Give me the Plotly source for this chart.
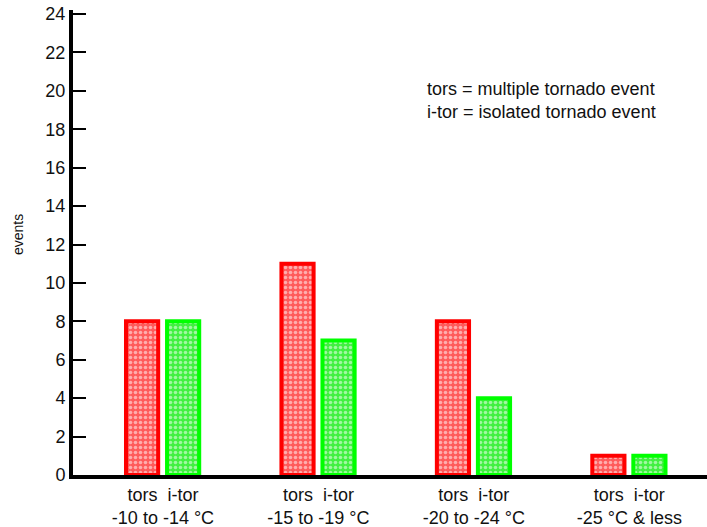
import plotly.graph_objects as go

categories = ["tors&nbsp; i-tor<br>-10 to -14 °C", "tors&nbsp; i-tor<br>-15 to -19 °C",
              "tors&nbsp; i-tor<br>-20 to -24 °C", "tors&nbsp; i-tor<br>-25 °C & less"]
tors = [8, 11, 8, 1]
itor = [8, 7, 4, 1]
yticks = [0, 2, 4, 6, 8, 10, 12, 14, 16, 18, 20, 22, 24]

FONT = "Liberation Sans, Arial, sans-serif"
idx = list(range(len(categories)))

fig = go.Figure()
fig.add_trace(go.Bar(
    x=idx, y=tors, name="tors", width=0.207, offset=-0.238,
    marker=dict(color="#ff6060", line=dict(color="#ff0000", width=4),
                pattern=dict(shape=".", fgcolor="white", bgcolor="#ff5a5a",
                             size=5, solidity=0.4)),
))
fig.add_trace(go.Bar(
    x=idx, y=itor, name="i-tor", width=0.207, offset=0.026,
    marker=dict(color="#50ff50", line=dict(color="#00ff00", width=4),
                pattern=dict(shape=".", fgcolor="white", bgcolor="#40f040",
                             size=5, solidity=0.4)),
))

fig.add_annotation(xref="paper", yref="paper", x=0.555, y=0.856, xanchor="left", yanchor="top",
                   text="tors = multiple tornado event<br>i-tor = isolated tornado event",
                   showarrow=False, align="left", font=dict(family=FONT, size=18, color="#111"))
fig.add_annotation(xref="paper", yref="paper", x=-0.0867, y=0.516, xanchor="center", yanchor="middle",
                   text="events", textangle=-90, showarrow=False,
                   font=dict(family=FONT, size=14, color="#111"))

fig.update_layout(
    width=707, height=527,
    margin=dict(l=73, r=0, t=10, b=52),
    paper_bgcolor="white", plot_bgcolor="white",
    showlegend=False,
    font=dict(family=FONT, size=18, color="#111"),
    xaxis=dict(tickmode="array", tickvals=idx, ticktext=categories,
               range=[-0.579, 3.5], showgrid=False, zeroline=False, automargin=False,
               showline=True, linecolor="black", linewidth=4, ticks="",
               tickfont=dict(family=FONT, size=18, color="#111")),
    yaxis=dict(range=[0, 24.21], tickvals=yticks, showgrid=False, zeroline=False,
               automargin=False,
               showline=True, linecolor="black", linewidth=4,
               ticks="inside", ticklen=13, tickwidth=1.5, tickcolor="black",
               tickfont=dict(family=FONT, size=18, color="#111")),
)

fig.write_html("out.html", config={"displayModeBar": False},
               post_script="document.body.style.margin='0';")
